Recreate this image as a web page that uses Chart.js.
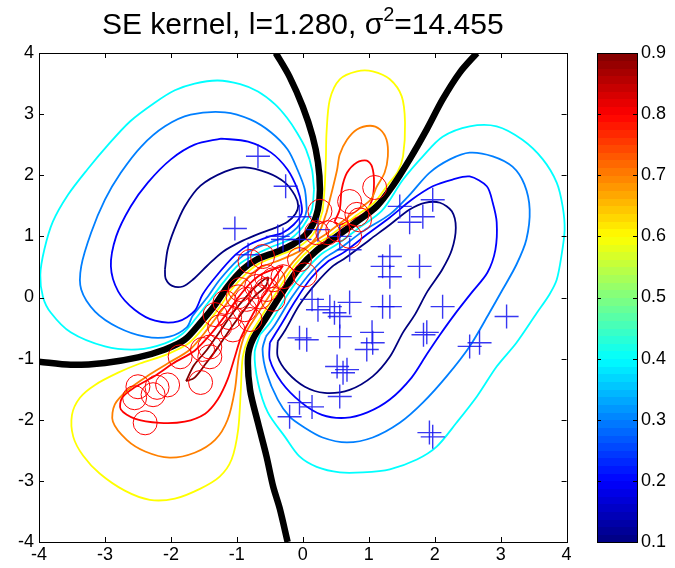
<!DOCTYPE html>
<html>
<head>
<meta charset="utf-8">
<script src="https://cdn.jsdelivr.net/npm/chart.js@4.4.1/dist/chart.umd.min.js"></script>
<style>
  body { margin: 0; background: #fff; }
  #wrap { position: relative; width: 675px; height: 568px; }
  #main { position: absolute; left: 0; top: 0; width: 580px; height: 568px; }
  #cbar { position: absolute; left: 585px; top: 0; width: 90px; height: 568px; }
</style>
</head>
<body>
<div id="wrap">
  <div id="main"><canvas id="plot"></canvas></div>
  <div id="cbar"><canvas id="bar"></canvas></div>
</div>
<script>
const titleText = ["SE kernel, l=1.280, \u03c3", "2", "=14.455"];
const xTicks = [-4, -3, -2, -1, 0, 1, 2, 3, 4];
const yTicks = [-4, -3, -2, -1, 0, 1, 2, 3, 4];
const cbTicks = [0.1, 0.2, 0.3, 0.4, 0.5, 0.6, 0.7, 0.8, 0.9];

// contour level 0.1
const lvl01a = [[-2.09,0.46],[-2.05,0.78],[-1.95,1.11],[-1.79,1.49],[-1.55,1.83],[-1.18,2.06],[-0.88,2.13],[-0.53,2.04],[-0.27,1.88],[-0.12,1.67],[-0.07,1.5],[-0.11,1.37],[-0.23,1.24],[-0.42,1.14],[-0.65,1.05],[-0.91,0.93],[-1.21,0.75],[-1.45,0.52],[-1.67,0.29],[-1.82,0.18],[-1.98,0.19],[-2.08,0.31],[-2.09,0.46]];
const lvl01b = [[-0.38,-0.72],[-0.27,-0.54],[-0.05,-0.12],[0.2,0.23],[0.45,0.51],[0.65,0.65],[1.02,0.95],[1.32,1.19],[1.62,1.44],[1.85,1.55],[2.08,1.55],[2.26,1.41],[2.32,1.14],[2.26,0.78],[2.11,0.45],[1.89,0.1],[1.7,-0.28],[1.52,-0.57],[1.32,-0.97],[1.06,-1.29],[0.71,-1.51],[0.33,-1.56],[0.03,-1.46],[-0.23,-1.23],[-0.38,-0.97],[-0.38,-0.72]];
// contour level 0.2
const lvl02a = [[-1.24,2.6],[-0.83,2.55],[-0.48,2.37],[-0.23,2.09],[-0.08,1.77],[-0.02,1.52],[-0.02,1.37],[-0.14,1.19],[-0.32,1.05],[-0.5,1.0],[-0.8,0.87],[-1.02,0.7],[-1.32,0.34],[-1.52,0.05],[-1.64,-0.22],[-1.89,-0.39],[-2.24,-0.38],[-2.55,-0.2],[-2.8,0.1],[-2.91,0.51],[-2.83,1.0],[-2.61,1.49],[-2.35,1.88],[-2.0,2.26],[-1.64,2.5],[-1.24,2.6]];
const lvl02b = [[-0.5,-0.74],[-0.35,-0.48],[-0.11,-0.05],[0.12,0.31],[0.38,0.59],[0.61,0.73],[0.97,1.03],[1.32,1.31],[1.65,1.6],[1.97,1.82],[2.27,1.93],[2.53,1.98],[2.79,1.82],[2.88,1.55],[2.94,1.23],[2.92,0.78],[2.8,0.41],[2.56,0.08],[2.3,-0.28],[2.08,-0.61],[1.88,-0.93],[1.65,-1.31],[1.32,-1.67],[0.98,-1.88],[0.64,-1.97],[0.29,-1.92],[-0.02,-1.72],[-0.32,-1.39],[-0.5,-1.02],[-0.5,-0.74]];
// contour level 0.3
const lvl03a = [[0.06,1.44],[0.03,1.77],[-0.08,2.09],[-0.23,2.42],[-0.48,2.7],[-0.79,2.91],[-1.18,3.03],[-1.7,2.99],[-2.09,2.8],[-2.45,2.47],[-2.76,2.04],[-3.0,1.6],[-3.21,1.06],[-3.36,0.51],[-3.36,0.13],[-3.15,-0.23],[-2.8,-0.49],[-2.39,-0.64],[-2.02,-0.64],[-1.76,-0.49],[-1.67,-0.3],[-1.45,0.0],[-1.26,0.29],[-0.98,0.62],[-0.77,0.78],[-0.47,0.91],[-0.26,1.0],[-0.09,1.14],[0.03,1.32],[0.06,1.44]];
const lvl03b = [[-0.56,-0.64],[-0.42,-0.44],[-0.17,0.0],[0.08,0.36],[0.33,0.64],[0.56,0.8],[0.92,1.09],[1.32,1.36],[1.62,1.68],[1.92,2.04],[2.23,2.26],[2.53,2.37],[2.88,2.31],[3.18,2.14],[3.36,1.85],[3.44,1.44],[3.39,0.95],[3.24,0.54],[3.03,0.13],[2.83,-0.25],[2.53,-0.8],[2.18,-1.29],[1.82,-1.72],[1.47,-2.05],[1.06,-2.29],[0.67,-2.37],[0.3,-2.29],[0.0,-2.11],[-0.2,-1.95],[-0.38,-1.67],[-0.55,-1.23],[-0.61,-0.85],[-0.56,-0.64]];
// contour level 0.4
const lvl04a = [[0.17,1.77],[0.14,2.09],[0.05,2.42],[-0.09,2.7],[-0.24,2.94],[-0.42,3.16],[-0.68,3.37],[-0.95,3.49],[-1.29,3.55],[-1.64,3.5],[-1.94,3.39],[-2.24,3.19],[-2.62,2.88],[-2.95,2.5],[-3.27,2.09],[-3.56,1.68],[-3.79,1.24],[-3.92,0.78],[-3.98,0.37],[-3.94,0.01],[-3.82,-0.25],[-3.52,-0.57],[-3.0,-0.8],[-2.5,-0.85],[-2.09,-0.75],[-1.82,-0.59],[-1.62,-0.34],[-1.41,-0.05],[-1.21,0.24],[-0.97,0.54],[-0.73,0.7],[-0.42,0.85],[-0.2,0.95],[-0.05,1.09],[0.06,1.26],[0.14,1.44],[0.17,1.77]];
const lvl04b = [[-0.65,-0.61],[-0.48,-0.39],[-0.23,0.05],[0.02,0.42],[0.27,0.7],[0.52,0.87],[0.88,1.16],[1.2,1.42],[1.52,1.93],[1.82,2.31],[2.12,2.63],[2.53,2.8],[2.94,2.8],[3.33,2.58],[3.64,2.26],[3.85,1.88],[3.94,1.49],[3.97,1.11],[3.92,0.67],[3.85,0.29],[3.74,0.05],[3.55,-0.25],[3.24,-0.74],[2.94,-1.13],[2.64,-1.62],[2.33,-2.05],[2.03,-2.44],[1.73,-2.65],[1.32,-2.81],[0.91,-2.86],[0.56,-2.86],[0.21,-2.77],[-0.05,-2.6],[-0.27,-2.28],[-0.53,-1.88],[-0.68,-1.39],[-0.73,-0.9],[-0.65,-0.61]];
// contour level 0.5 (decision boundary)
const lvl05a = [[-4.0,-1.05],[-3.52,-1.1],[-3.0,-1.07],[-2.5,-0.98],[-2.09,-0.85],[-1.79,-0.69],[-1.55,-0.41],[-1.33,-0.12],[-1.14,0.18],[-0.91,0.46],[-0.7,0.62],[-0.39,0.75],[-0.15,0.87],[0.03,1.01],[0.15,1.19],[0.23,1.44],[0.26,1.77],[0.23,2.21],[0.15,2.63],[0.0,3.12],[-0.2,3.61],[-0.41,4.0]];
const lvl05b = [[-0.23,-4.0],[-0.35,-3.45],[-0.45,-3.09],[-0.55,-2.6],[-0.68,-2.05],[-0.8,-1.51],[-0.83,-0.97],[-0.76,-0.69],[-0.56,-0.34],[-0.3,0.1],[-0.05,0.49],[0.21,0.77],[0.45,0.95],[0.82,1.24],[1.12,1.49],[1.36,1.82],[1.62,2.26],[1.88,2.75],[2.12,3.24],[2.38,3.68],[2.64,4.0]];
// contour level 0.6
const lvl06 = [[0.3,1.41],[0.33,1.77],[0.35,2.26],[0.36,2.7],[0.41,3.24],[0.56,3.57],[0.82,3.7],[1.06,3.7],[1.32,3.57],[1.5,3.29],[1.55,2.86],[1.52,2.31],[1.44,2.06],[1.3,1.86],[1.08,1.55],[0.77,1.31],[0.41,1.01],[0.15,0.83],[-0.11,0.55],[-0.36,0.15],[-0.62,-0.3],[-0.82,-0.66],[-0.91,-0.97],[-0.94,-1.51],[-0.98,-2.16],[-1.08,-2.65],[-1.26,-2.93],[-1.56,-3.13],[-1.94,-3.29],[-2.32,-3.31],[-2.7,-3.16],[-3.08,-2.88],[-3.33,-2.59],[-3.48,-2.28],[-3.5,-1.92],[-3.38,-1.64],[-3.15,-1.43],[-2.8,-1.23],[-2.47,-1.08],[-2.06,-0.93],[-1.73,-0.75],[-1.48,-0.46],[-1.27,-0.17],[-1.08,0.13],[-0.86,0.39],[-0.67,0.55],[-0.36,0.69],[-0.11,0.8],[0.09,0.95],[0.21,1.13],[0.3,1.41]];
// contour level 0.7
const lvl07 = [[0.36,1.39],[0.45,1.77],[0.52,2.09],[0.56,2.34],[0.67,2.58],[0.82,2.75],[1.02,2.81],[1.17,2.75],[1.27,2.58],[1.29,2.31],[1.24,2.04],[1.12,1.81],[1.03,1.6],[0.74,1.36],[0.38,1.06],[0.12,0.87],[-0.14,0.59],[-0.41,0.19],[-0.68,-0.26],[-0.88,-0.61],[-0.97,-0.97],[-1.03,-1.51],[-1.14,-2.0],[-1.33,-2.33],[-1.64,-2.54],[-2.02,-2.62],[-2.39,-2.52],[-2.67,-2.33],[-2.88,-2.03],[-2.85,-1.75],[-2.65,-1.51],[-2.35,-1.28],[-2.05,-1.08],[-1.71,-0.85],[-1.44,-0.51],[-1.23,-0.21],[-1.03,0.08],[-0.82,0.34],[-0.64,0.49],[-0.33,0.62],[-0.06,0.75],[0.14,0.9],[0.26,1.09],[0.36,1.39]];
// contour level 0.8
const lvl08a = [[0.48,1.24],[0.56,1.44],[0.59,1.77],[0.67,2.04],[0.82,2.21],[0.97,2.24],[1.05,2.14],[1.08,1.88],[1.05,1.6],[0.94,1.39],[0.74,1.27],[0.56,1.19],[0.48,1.24]];
const lvl08b = [[-0.3,0.52],[-0.45,0.28],[-0.65,-0.07],[-0.8,-0.36],[-0.94,-0.66],[-1.03,-0.97],[-1.14,-1.34],[-1.29,-1.67],[-1.48,-1.9],[-1.79,-2.03],[-2.17,-2.05],[-2.55,-1.98],[-2.76,-1.83],[-2.74,-1.64],[-2.55,-1.47],[-2.24,-1.28],[-1.97,-1.08],[-1.64,-0.87],[-1.39,-0.59],[-1.18,-0.3],[-0.98,0.0],[-0.79,0.24],[-0.61,0.39],[-0.3,0.52]];
// contour level 0.9
const lvl09 = [[-1.77,-1.37],[-1.65,-1.11],[-1.45,-0.85],[-1.26,-0.56],[-1.06,-0.25],[-0.86,0.01],[-0.68,0.21],[-0.53,0.33],[-0.56,0.19],[-0.74,0.01],[-0.92,-0.25],[-1.11,-0.53],[-1.29,-0.82],[-1.47,-1.08],[-1.64,-1.31],[-1.77,-1.37]];

// class -1 (plus) and class +1 (circle) training points
const plusPts = [[-0.68,2.31],[-0.26,1.82],[-1.03,1.13],[-0.83,0.7],[-0.38,1.0],[-0.05,1.32],[-0.3,0.95],[0.23,1.11],[-0.05,0.95],[0.56,1.0],[0.71,0.78],[1.47,1.49],[1.62,1.23],[1.82,1.32],[1.97,1.6],[1.21,0.51],[1.32,0.67],[1.32,0.34],[1.77,0.51],[0.71,-0.08],[0.41,-0.15],[0.14,-0.03],[-0.05,-0.66],[0.06,-0.69],[0.23,-0.2],[0.48,-0.25],[0.56,-0.31],[0.56,-0.64],[1.05,-0.57],[1.06,-0.74],[0.97,-0.85],[1.21,-0.15],[1.32,-0.15],[2.12,-0.15],[1.83,-0.61],[1.88,-0.57],[0.52,-1.13],[0.61,-1.23],[0.67,-1.18],[0.56,-1.62],[-0.05,-1.72],[0.14,-1.79],[-0.2,-1.95],[2.53,-0.8],[2.68,-0.74],[3.09,-0.31],[1.92,-2.21],[1.97,-2.28]];
const circlePts = [[-2.39,-2.05],[-2.55,-1.64],[-2.5,-1.46],[-2.27,-1.59],[-2.21,-1.47],[-2.05,-1.43],[-1.86,-0.97],[-1.52,-0.85],[-1.41,-0.97],[-1.55,-1.39],[-1.33,-0.28],[-1.26,-0.48],[-1.11,-0.33],[-1.06,-0.53],[-0.88,-0.2],[-0.8,-0.36],[-0.85,-0.03],[-0.95,0.13],[-0.7,0.18],[-0.65,0.01],[-0.55,0.13],[-0.45,-0.03],[-0.55,0.34],[-0.45,0.29],[-0.3,0.34],[-0.8,0.59],[-0.61,0.67],[-0.05,0.62],[0.03,0.37],[0.21,1.06],[0.38,1.06],[0.53,1.11],[0.71,1.0],[0.26,1.41],[0.71,1.57],[0.82,1.36],[0.86,1.27],[1.09,1.8],[-1.18,-0.08],[-0.98,0.01],[-1.41,-0.81]];

const FONT = "Arial, 'Liberation Sans', Helvetica, sans-serif";

function jet(t) {
  const c = v => Math.round(255 * Math.max(0, Math.min(1, v)));
  return `rgb(${c(Math.min(4 * t - 1.5, -4 * t + 4.5))},${c(Math.min(4 * t - 0.5, -4 * t + 3.5))},${c(Math.min(4 * t + 0.5, -4 * t + 2.5))})`;
}
const levelColor = lv => jet((lv - 0.1) / 0.8);
const pts = arr => arr.map(p => ({ x: p[0], y: p[1] }));

function contour(arr, lv) {
  return {
    data: pts(arr), showLine: true, pointRadius: 0, borderWidth: 1.8,
    borderColor: levelColor(lv), tension: 0.3, fill: false
  };
}
function boundary(arr) {
  return { data: pts(arr), showLine: true, pointRadius: 0, borderWidth: 6.5, borderColor: '#000', tension: 0.3, fill: false };
}

const datasets = [
  { data: pts(circlePts), pointStyle: 'circle', pointRadius: 12, pointBorderColor: '#ff0000', pointBackgroundColor: 'rgba(0,0,0,0)', pointBorderWidth: 1, showLine: false },
  { data: pts(plusPts), pointStyle: 'cross', pointRadius: 12, pointBorderColor: 'rgba(20,20,240,0.85)', pointBorderWidth: 1.4, showLine: false },
  boundary(lvl05a), boundary(lvl05b),
  contour(lvl01a, 0.1), contour(lvl01b, 0.1),
  contour(lvl02a, 0.2), contour(lvl02b, 0.2),
  contour(lvl03a, 0.3), contour(lvl03b, 0.3),
  contour(lvl04a, 0.4), contour(lvl04b, 0.4),
  contour(lvl06, 0.6), contour(lvl07, 0.7),
  contour(lvl08a, 0.8), contour(lvl08b, 0.8),
  contour(lvl09, 0.9)
];

// box with inward ticks + title
const frame = {
  id: 'frame',
  afterDraw(chart) {
    const { ctx, chartArea: a, scales: { x, y } } = chart;
    ctx.save();
    ctx.strokeStyle = '#000';
    ctx.lineWidth = 1;
    ctx.beginPath();
    xTicks.forEach(v => {
      const p = Math.round(x.getPixelForValue(v)) + 0.5;
      ctx.moveTo(p, a.bottom); ctx.lineTo(p, a.bottom - 5);
      ctx.moveTo(p, a.top); ctx.lineTo(p, a.top + 5);
    });
    yTicks.forEach(v => {
      const p = Math.round(y.getPixelForValue(v)) + 0.5;
      ctx.moveTo(a.left, p); ctx.lineTo(a.left + 5, p);
      ctx.moveTo(a.right, p); ctx.lineTo(a.right - 5, p);
    });
    ctx.stroke();
    ctx.strokeRect(Math.round(a.left) + 0.5, Math.round(a.top) + 0.5, Math.round(a.right - a.left), Math.round(a.bottom - a.top));

    // title with superscript
    ctx.fillStyle = '#000';
    ctx.textBaseline = 'alphabetic';
    const big = `30px ${FONT}`, small = `20px ${FONT}`;
    ctx.font = big;
    const w0 = ctx.measureText(titleText[0]).width, w2 = ctx.measureText(titleText[2]).width;
    ctx.font = small;
    const w1 = ctx.measureText(titleText[1]).width;
    let tx = (a.left + a.right) / 2 - (w0 + w1 + w2) / 2;
    const base = 34;
    ctx.font = big; ctx.fillText(titleText[0], tx, base); tx += w0;
    ctx.font = small; ctx.fillText(titleText[1], tx, base - 13); tx += w1;
    ctx.font = big; ctx.fillText(titleText[2], tx, base);
    ctx.restore();
  }
};

new Chart(document.getElementById('plot'), {
  type: 'scatter',
  data: { datasets },
  options: {
    responsive: true, maintainAspectRatio: false, animation: false,
    layout: { padding: { left: 0, right: 13, top: 53, bottom: 0 } },
    plugins: { legend: { display: false }, tooltip: { enabled: false }, title: { display: false } },
    scales: {
      x: {
        type: 'linear', min: -4, max: 4,
        ticks: { stepSize: 1, color: '#000', font: { family: FONT, size: 18 }, padding: 2, maxRotation: 0 },
        grid: { display: false, drawTicks: false }, border: { display: false },
        afterFit: s => { s.height = 26; }
      },
      y: {
        type: 'linear', min: -4, max: 4,
        ticks: { stepSize: 1, color: '#000', font: { family: FONT, size: 18 }, padding: 5 },
        grid: { display: false, drawTicks: false }, border: { display: false },
        afterFit: s => { s.width = 39; }
      }
    }
  },
  plugins: [frame]
});

// colour bar
const cbMin = 0.1, cbMax = 0.9, nBands = 64;
const barFill = {
  id: 'barFill',
  beforeDatasetsDraw(chart) {
    const { ctx, chartArea: a, scales: { y } } = chart;
    ctx.save();
    for (let i = 0; i < nBands; i++) {
      const v0 = cbMin + (cbMax - cbMin) * i / nBands;
      const v1 = cbMin + (cbMax - cbMin) * (i + 1) / nBands;
      const p0 = y.getPixelForValue(v0), p1 = y.getPixelForValue(v1);
      ctx.fillStyle = jet((i + 0.5) / nBands);
      ctx.fillRect(a.left, Math.floor(p1), a.right - a.left, Math.ceil(p0) - Math.floor(p1));
    }
    ctx.strokeStyle = '#000';
    ctx.lineWidth = 1;
    ctx.beginPath();
    cbTicks.forEach(v => {
      const p = Math.round(y.getPixelForValue(v)) + 0.5;
      ctx.moveTo(a.left, p); ctx.lineTo(a.left + 4, p);
      ctx.moveTo(a.right, p); ctx.lineTo(a.right - 4, p);
    });
    ctx.stroke();
    ctx.strokeRect(Math.round(a.left) + 0.5, Math.round(a.top) + 0.5, Math.round(a.right - a.left), Math.round(a.bottom - a.top));
    ctx.restore();
  }
};

new Chart(document.getElementById('bar'), {
  type: 'scatter',
  data: { datasets: [] },
  options: {
    responsive: true, maintainAspectRatio: false, animation: false,
    layout: { padding: { left: 12, right: 0, top: 53, bottom: 26 } },
    plugins: { legend: { display: false }, tooltip: { enabled: false } },
    scales: {
      x: { display: false, min: 0, max: 1 },
      y: {
        position: 'right', min: cbMin, max: cbMax,
        ticks: { stepSize: 0.1, color: '#000', font: { family: FONT, size: 18 }, padding: 4, callback: v => Number(v).toFixed(1) },
        grid: { display: false, drawTicks: false }, border: { display: false },
        afterFit: s => { s.width = 38; }
      }
    }
  },
  plugins: [barFill]
});
</script>
</body>
</html>
